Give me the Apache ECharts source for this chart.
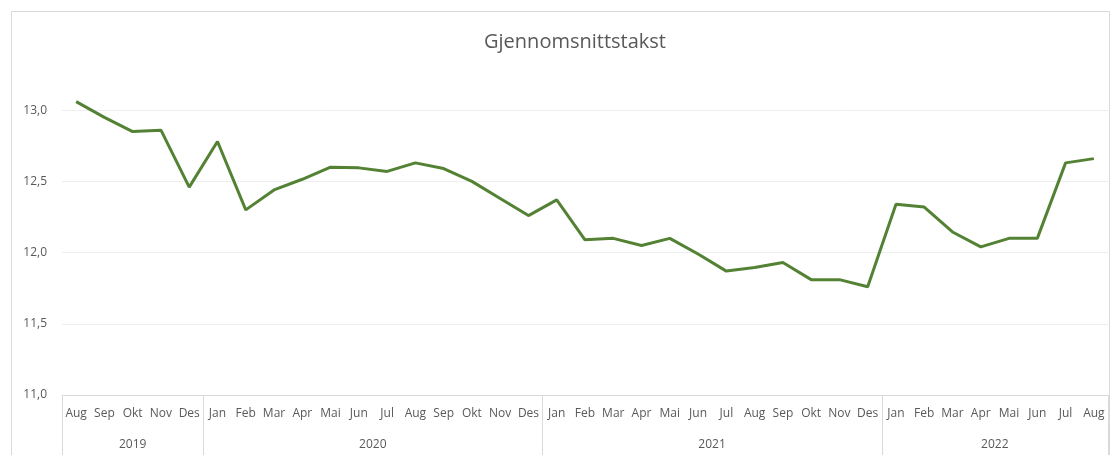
<!DOCTYPE html>
<html>
<head>
<meta charset="utf-8">
<script src="https://cdn.jsdelivr.net/npm/echarts@6/dist/echarts.min.js"></script>
<style>
  html, body { margin: 0; padding: 0; background: #fff; }
  #chart { width: 1112px; height: 455px; }
</style>
</head>
<body>
<div id="chart"></div>
<script>
var months = ['Aug', 'Sep', 'Okt', 'Nov', 'Des',
  'Jan', 'Feb', 'Mar', 'Apr', 'Mai', 'Jun', 'Jul', 'Aug', 'Sep', 'Okt', 'Nov', 'Des',
  'Jan', 'Feb', 'Mar', 'Apr', 'Mai', 'Jun', 'Jul', 'Aug', 'Sep', 'Okt', 'Nov', 'Des',
  'Jan', 'Feb', 'Mar', 'Apr', 'Mai', 'Jun', 'Jul', 'Aug'];
var years = ['2019', '2020', '2021', '2022'];
var monthsPerYear = [5, 12, 12, 8];
var takst = [13.06, 12.95, 12.85, 12.86, 12.46,
  12.78, 12.30, 12.44, 12.515, 12.60, 12.595, 12.57, 12.63, 12.59, 12.50, 12.38, 12.26,
  12.37, 12.09, 12.10, 12.05, 12.10, 11.99, 11.87, 11.895, 11.93, 11.81, 11.81, 11.76,
  12.34, 12.32, 12.145, 12.04, 12.10, 12.10, 12.63, 12.66];

// year of each category, and where each year label goes
var yearOf = [];
var yearLabelAt = {};
var start = 0;
monthsPerYear.forEach(function (n, i) {
  for (var k = 0; k < n; k++) yearOf.push(years[i]);
  var mid = start + (n - 1) / 2;
  yearLabelAt[Math.floor(mid)] = { text: years[i], half: mid % 1 !== 0 };
  start += n;
});

var chart = echarts.init(document.getElementById('chart'));
var textColor = '#595959';
var font = 'Open Sans';

chart.setOption({
  animation: false,
  textStyle: { fontFamily: font },
  title: {
    text: 'Gjennomsnittstakst',
    left: 570,
    textAlign: 'center',
    top: 27,
    textStyle: { color: textColor, fontSize: 20, fontWeight: 'normal', fontFamily: font }
  },
  graphic: [{
    type: 'rect',
    shape: { x: 11.5, y: 11.5, width: 1098, height: 470 },
    style: { fill: 'none', stroke: '#d9d9d9', lineWidth: 1 },
    silent: true
  }],
  grid: { left: 62, right: 4, top: 39, bottom: 60 },
  xAxis: [
    {
      type: 'category',
      data: months,
      boundaryGap: true,
      axisLine: { lineStyle: { color: '#d9d9d9' } },
      axisTick: {
        show: true,
        length: 60,
        lineStyle: { color: '#d9d9d9' },
        interval: function (index, value) {
          return index === 0 || value === 'Jan';
        }
      },
      axisLabel: { interval: 0, margin: 13, color: textColor, fontSize: 12, fontFamily: font }
    },
    {
      type: 'category',
      data: yearOf,
      position: 'bottom',
      boundaryGap: true,
      axisLine: { show: false },
      axisTick: { show: false },
      axisLabel: {
        interval: 0,
        margin: 44,
        color: textColor,
        fontSize: 12,
        fontFamily: font,
        formatter: function (value, index) {
          var y = yearLabelAt[index];
          if (!y) return '';
          return y.half ? '{h|' + y.text + '}' : y.text;
        },
        rich: {
          h: { padding: [0, 0, 0, 28], color: textColor, fontSize: 12, fontFamily: font }
        }
      }
    }
  ],
  yAxis: {
    type: 'value',
    min: 11,
    max: 13.5,
    interval: 0.5,
    axisLine: { show: false },
    axisTick: { show: false },
    axisLabel: {
      margin: 15,
      color: textColor,
      fontSize: 12,
      fontFamily: font,
      showMaxLabel: false,
      formatter: function (v) { return v.toFixed(1).replace('.', ','); }
    },
    splitLine: {
      lineStyle: { color: ['#eeeeee', '#eeeeee', '#eeeeee', '#eeeeee', '#eeeeee', 'rgba(0,0,0,0)'] }
    }
  },
  series: [{
    name: 'Gjennomsnittstakst',
    type: 'line',
    data: takst,
    symbol: 'none',
    lineStyle: { color: '#548235', width: 3 },
    itemStyle: { color: '#548235' }
  }]
});
</script>
</body>
</html>
